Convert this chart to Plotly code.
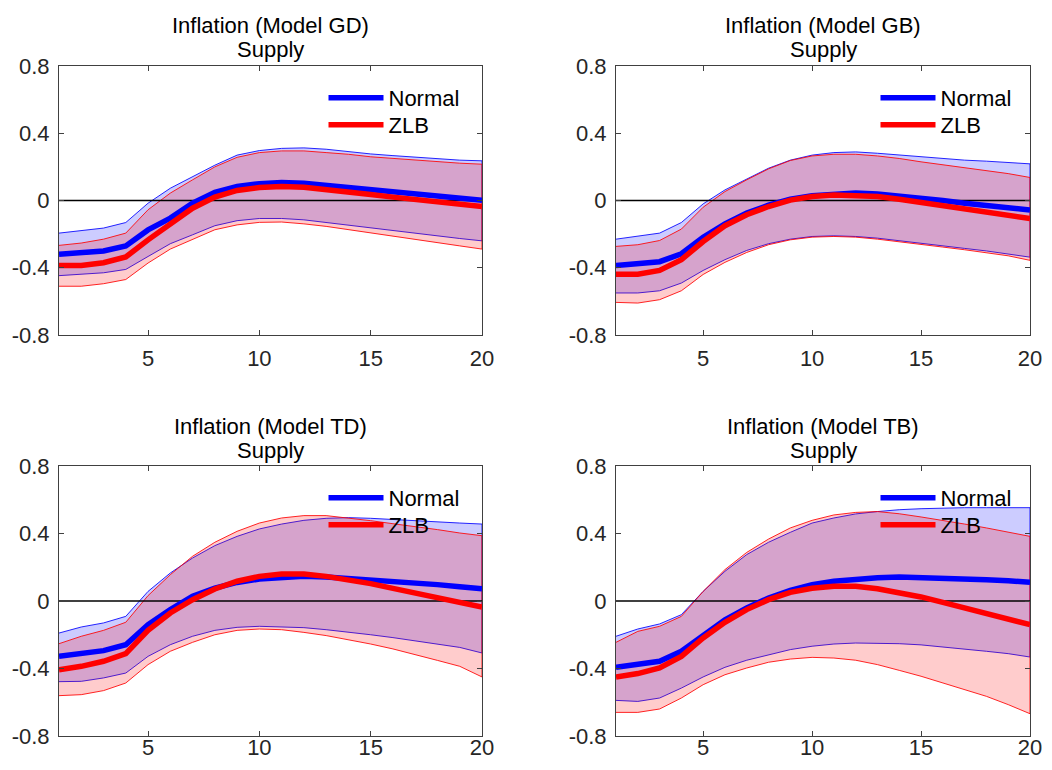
import plotly.graph_objects as go

x = list(range(1, 21))

titles = ["Inflation (Model GD)", "Inflation (Model GB)", "Inflation (Model TD)", "Inflation (Model TB)"]
subtitle = "Supply"
series_names = ["Normal", "ZLB"]

# ---- Model GD ----
gd_normal = [-0.32, -0.31, -0.30, -0.27, -0.175, -0.105, -0.016, 0.048, 0.083, 0.10,
             0.107, 0.103, 0.09, 0.077, 0.063, 0.05, 0.036, 0.024, 0.012, 0.002]
gd_zlb = [-0.386, -0.386, -0.37, -0.336, -0.234, -0.135, -0.046, 0.02, 0.06, 0.077,
          0.083, 0.079, 0.067, 0.051, 0.036, 0.02, 0.004, -0.01, -0.024, -0.036]
gd_normal_hi = [-0.194, -0.178, -0.164, -0.131, -0.016, 0.073, 0.143, 0.21, 0.27, 0.297,
                0.31, 0.313, 0.305, 0.29, 0.277, 0.267, 0.257, 0.25, 0.24, 0.236]
gd_zlb_hi = [-0.267, -0.253, -0.23, -0.194, -0.055, 0.044, 0.123, 0.2, 0.257, 0.285,
             0.295, 0.295, 0.285, 0.275, 0.26, 0.25, 0.238, 0.23, 0.222, 0.216]
gd_normal_lo = [-0.447, -0.44, -0.43, -0.41, -0.333, -0.257, -0.204, -0.15, -0.12, -0.107,
                -0.107, -0.115, -0.128, -0.145, -0.16, -0.178, -0.194, -0.21, -0.226, -0.24]
gd_zlb_lo = [-0.51, -0.51, -0.495, -0.47, -0.372, -0.289, -0.23, -0.174, -0.145, -0.13,
             -0.128, -0.139, -0.154, -0.174, -0.194, -0.214, -0.234, -0.25, -0.27, -0.289]

# ---- Model GB ----
gb_normal = [-0.386, -0.376, -0.364, -0.317, -0.218, -0.139, -0.075, -0.028, 0.008, 0.028,
             0.04, 0.044, 0.038, 0.028, 0.014, 0.0, -0.016, -0.03, -0.044, -0.057]
gb_zlb = [-0.438, -0.438, -0.416, -0.352, -0.244, -0.15, -0.085, -0.036, 0.002, 0.024,
          0.032, 0.032, 0.024, 0.008, -0.01, -0.028, -0.048, -0.067, -0.087, -0.107]
gb_normal_hi = [-0.23, -0.21, -0.194, -0.131, -0.02, 0.063, 0.129, 0.192, 0.24, 0.27,
                0.285, 0.289, 0.281, 0.27, 0.26, 0.25, 0.24, 0.234, 0.226, 0.218]
gb_zlb_hi = [-0.273, -0.263, -0.238, -0.17, -0.04, 0.053, 0.123, 0.188, 0.238, 0.265,
             0.275, 0.275, 0.265, 0.25, 0.23, 0.212, 0.192, 0.176, 0.16, 0.137]
gb_normal_lo = [-0.55, -0.55, -0.537, -0.491, -0.416, -0.352, -0.297, -0.257, -0.23, -0.214,
                -0.21, -0.214, -0.224, -0.238, -0.253, -0.27, -0.285, -0.3, -0.317, -0.337]
gb_zlb_lo = [-0.606, -0.61, -0.59, -0.537, -0.44, -0.368, -0.309, -0.263, -0.234, -0.218,
             -0.214, -0.218, -0.23, -0.244, -0.26, -0.277, -0.293, -0.309, -0.329, -0.356]

# ---- Model TD ----
td_normal = [-0.328, -0.314, -0.294, -0.259, -0.14, -0.051, 0.028, 0.077, 0.11, 0.13,
             0.142, 0.146, 0.142, 0.134, 0.126, 0.117, 0.107, 0.097, 0.085, 0.073]
td_zlb = [-0.407, -0.387, -0.357, -0.312, -0.174, -0.071, 0.008, 0.071, 0.117, 0.146,
          0.16, 0.16, 0.146, 0.126, 0.103, 0.075, 0.047, 0.02, -0.008, -0.036]
td_normal_hi = [-0.19, -0.154, -0.13, -0.091, 0.057, 0.166, 0.255, 0.328, 0.383, 0.427,
                0.456, 0.478, 0.49, 0.494, 0.49, 0.482, 0.476, 0.468, 0.462, 0.456]
td_zlb_hi = [-0.253, -0.209, -0.174, -0.126, 0.032, 0.156, 0.265, 0.348, 0.413, 0.462,
             0.492, 0.506, 0.506, 0.492, 0.476, 0.458, 0.442, 0.423, 0.403, 0.387]
td_normal_lo = [-0.478, -0.476, -0.456, -0.427, -0.328, -0.259, -0.209, -0.174, -0.156, -0.15,
                -0.152, -0.158, -0.17, -0.184, -0.2, -0.217, -0.235, -0.255, -0.275, -0.308]
td_zlb_lo = [-0.561, -0.555, -0.531, -0.486, -0.377, -0.298, -0.245, -0.2, -0.174, -0.166,
             -0.17, -0.186, -0.205, -0.229, -0.255, -0.284, -0.318, -0.352, -0.387, -0.45]

# ---- Model TB ----
tb_normal = [-0.393, -0.377, -0.357, -0.298, -0.2, -0.111, -0.041, 0.018, 0.063, 0.097,
             0.117, 0.13, 0.138, 0.142, 0.14, 0.136, 0.132, 0.126, 0.12, 0.111]
tb_zlb = [-0.45, -0.43, -0.397, -0.328, -0.219, -0.126, -0.051, 0.008, 0.051, 0.075,
          0.087, 0.087, 0.073, 0.051, 0.024, -0.008, -0.041, -0.075, -0.107, -0.14]
tb_normal_hi = [-0.209, -0.166, -0.136, -0.081, 0.057, 0.176, 0.275, 0.348, 0.407, 0.462,
                0.492, 0.516, 0.53, 0.541, 0.547, 0.551, 0.553, 0.553, 0.553, 0.553]
tb_zlb_hi = [-0.245, -0.18, -0.15, -0.091, 0.057, 0.186, 0.288, 0.367, 0.433, 0.478,
             0.51, 0.525, 0.53, 0.517, 0.498, 0.478, 0.456, 0.433, 0.407, 0.383]
tb_normal_lo = [-0.589, -0.595, -0.575, -0.516, -0.45, -0.393, -0.351, -0.318, -0.288, -0.268,
                -0.255, -0.249, -0.249, -0.253, -0.26, -0.272, -0.284, -0.298, -0.312, -0.332]
tb_zlb_lo = [-0.66, -0.66, -0.64, -0.575, -0.496, -0.437, -0.397, -0.363, -0.344, -0.334,
             -0.338, -0.351, -0.377, -0.411, -0.446, -0.486, -0.525, -0.565, -0.614, -0.668]

y_tickvals = [-0.8, -0.4, 0, 0.4, 0.8]
y_ticktext = ["-0.8", "-0.4", "0", "0.4", "0.8"]
x_tickvals = [5, 10, 15, 20]

panels = [
    (gd_normal, gd_zlb, gd_normal_hi, gd_normal_lo, gd_zlb_hi, gd_zlb_lo),
    (gb_normal, gb_zlb, gb_normal_hi, gb_normal_lo, gb_zlb_hi, gb_zlb_lo),
    (td_normal, td_zlb, td_normal_hi, td_normal_lo, td_zlb_hi, td_zlb_lo),
    (tb_normal, tb_zlb, tb_normal_hi, tb_normal_lo, tb_zlb_hi, tb_zlb_lo),
]

# page offset of the plot div (body margin)
OX, OY = 8, 8
W, H = 1036, 754
FONT = "Liberation Sans, Arial, sans-serif"
FS = 22
AXC = "#404040"

# panel boxes in screen pixels
xdoms = [(59, 482), (616, 1030)]
ydoms = [(66, 335), (466, 736)]
leg_dx = [270, 265]
xlab_standoff = [4, -8]

fig = go.Figure()
layout = dict(
    width=W, height=H, autosize=False,
    margin=dict(l=0, r=0, t=0, b=0, autoexpand=False),
    paper_bgcolor="white", plot_bgcolor="white",
    font=dict(family=FONT, size=FS, color="#262626"),
    annotations=[],
)

def px_x(p):
    return (p - OX) / W

def px_y(p):
    return 1 - (p - OY) / H

for i, (nm, zl, nh, nlo, zh, zlo) in enumerate(panels):
    r, c = divmod(i, 2)
    ax = "" if i == 0 else str(i + 1)
    xa, ya = "x" + ax, "y" + ax
    leg_a = "legend" if i == 0 else "legend" + str(2 * i + 1)
    leg_b = "legend" + str(2 * i + 2)
    x0, x1 = xdoms[c]
    y0, y1 = ydoms[r]
    xd = [px_x(x0), px_x(x1)]
    yd = [px_y(y1), px_y(y0)]

    # bands
    fig.add_trace(go.Scatter(x=x + x[::-1], y=nh + nlo[::-1], fill="toself",
                             fillcolor="rgba(0,0,255,0.2)", line=dict(color="rgba(0,0,255,0.85)", width=1),
                             mode="lines", showlegend=False, hoverinfo="skip", xaxis=xa, yaxis=ya))
    fig.add_trace(go.Scatter(x=x + x[::-1], y=zh + zlo[::-1], fill="toself",
                             fillcolor="rgba(255,0,0,0.2)", line=dict(color="rgba(255,0,0,0.85)", width=1),
                             mode="lines", showlegend=False, hoverinfo="skip", xaxis=xa, yaxis=ya))
    # zero line
    fig.add_trace(go.Scatter(x=[x[0], x[-1]], y=[0, 0], mode="lines",
                             line=dict(color="black", width=1.3), showlegend=False,
                             hoverinfo="skip", xaxis=xa, yaxis=ya))
    # means
    fig.add_trace(go.Scatter(x=x, y=nm, mode="lines", name=series_names[0],
                             line=dict(color="#0000FF", width=5.5), legend=leg_a,
                             xaxis=xa, yaxis=ya))
    fig.add_trace(go.Scatter(x=x, y=zl, mode="lines", name=series_names[1],
                             line=dict(color="#FF0000", width=5.5), legend=leg_b,
                             xaxis=xa, yaxis=ya))

    axcommon = dict(showline=True, linecolor=AXC, linewidth=1, mirror="ticks",
                    ticks="inside", ticklen=5, tickcolor=AXC, showgrid=False,
                    zeroline=False, automargin=False, tickfont=dict(size=FS, color="#262626"))
    layout["xaxis" + ax] = dict(domain=xd, range=[1, 20], tickvals=x_tickvals,
                                anchor=ya, **axcommon)
    layout["yaxis" + ax] = dict(domain=yd, range=[-0.8, 0.8], tickvals=y_tickvals,
                                ticktext=y_ticktext, anchor=xa, ticklabelstandoff=4, **axcommon)
    lx = px_x(x0 + leg_dx[c] - 5.5)
    for k, lg in enumerate([leg_a, leg_b]):
        layout[lg] = dict(x=lx, y=px_y(y0 + 32 + 27 * k - 21), xanchor="left", yanchor="top",
                          bgcolor="rgba(0,0,0,0)", borderwidth=0, itemwidth=55,
                          font=dict(size=FS, color="black"))
    cx = (xd[0] + xd[1]) / 2
    for txt, dy in [(titles[i], 40), (subtitle, 16)]:
        layout["annotations"].append(dict(
            text=txt, x=cx, y=yd[1], xref="paper", yref="paper",
            xanchor="center", yanchor="middle", yshift=dy, showarrow=False,
            font=dict(size=FS, color="black")))

fig.update_layout(**layout)

for i in range(4):
    r = i // 2
    ax = "xaxis" if i == 0 else "xaxis" + str(i + 1)
    try:
        fig.layout[ax].ticklabelstandoff = xlab_standoff[r]
    except ValueError:
        fig.layout[ax].ticklabelstandoff = max(0, xlab_standoff[r])

fig.write_html("out.html")
